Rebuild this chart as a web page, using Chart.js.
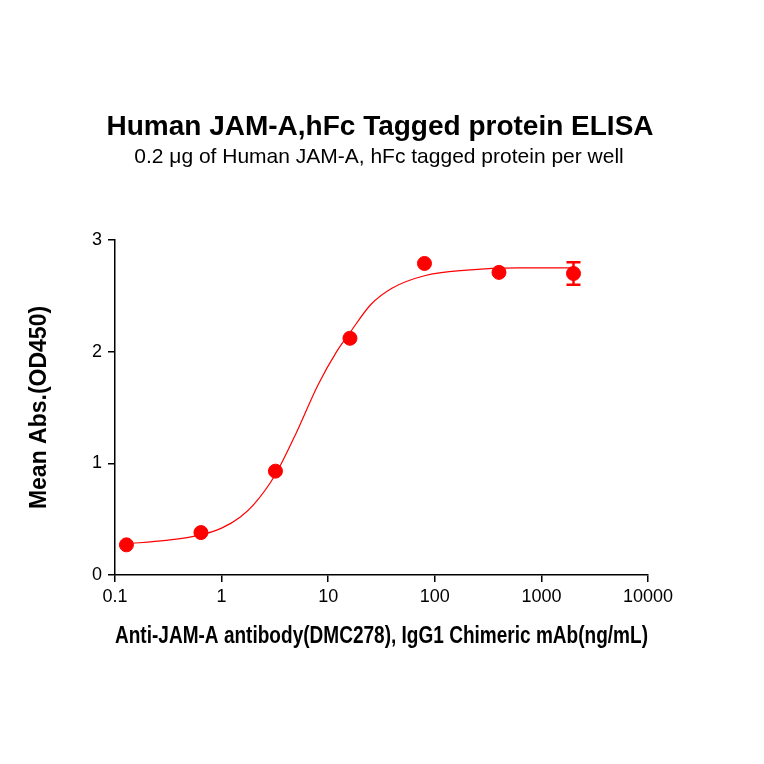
<!DOCTYPE html>
<html><head><meta charset="utf-8">
<script src="https://cdn.jsdelivr.net/npm/chart.js@4"></script>
<style>body{margin:0;background:#fff}</style>
</head><body>
<canvas id="c" width="764" height="764"></canvas>
<script>
// Measured points (ng/mL vs OD450)
const concentrations = [0.128, 0.64, 3.2, 16, 80, 400, 2000];
const meanAbs = [0.27, 0.38, 0.93, 2.12, 2.79, 2.71, 2.70];
const errAbs = [0, 0, 0, 0, 0, 0, 0.1];
// Fitted curve
const curveX = [0.128, 0.3, 0.64, 1, 1.5, 2, 3.2, 5, 8, 12, 16, 25, 40, 80, 200, 600, 2000];
const curveY = [0.28, 0.31, 0.36, 0.42, 0.52, 0.63, 0.90, 1.27, 1.70, 2.00, 2.17, 2.42, 2.57, 2.68, 2.73, 2.75, 2.75];
const xTicks = [0.1, 1, 10, 100, 1000, 10000];
const yTicks = [0, 1, 2, 3];

const RED = 'rgb(255,0,0)';
const FONT = 'Arial, "Liberation Sans", sans-serif';

const titles = {
  id: 'titles',
  afterDraw(chart) {
    const ctx = chart.ctx;
    ctx.save();
    ctx.fillStyle = '#000';
    ctx.textAlign = 'center';
    ctx.textBaseline = 'middle';
    ctx.font = 'bold 28px ' + FONT;
    ctx.fillText('Human JAM-A,hFc Tagged protein ELISA', 380, 127);
    ctx.font = '21px ' + FONT;
    ctx.fillText('0.2 \u03BCg of Human JAM-A, hFc tagged protein per well', 379, 157);
    ctx.restore();
  }
};

const errorBars = {
  id: 'errorBars',
  afterDatasetsDraw(chart) {
    const ctx = chart.ctx, xs = chart.scales.x, ys = chart.scales.y;
    ctx.save();
    ctx.strokeStyle = RED;
    ctx.lineWidth = 2.5;
    concentrations.forEach((c, i) => {
      if (!errAbs[i]) return;
      const px = xs.getPixelForValue(c);
      const top = ys.getPixelForValue(meanAbs[i] + errAbs[i]);
      const bot = ys.getPixelForValue(meanAbs[i] - errAbs[i]);
      ctx.beginPath();
      ctx.moveTo(px, top); ctx.lineTo(px, bot);
      ctx.moveTo(px - 7, top); ctx.lineTo(px + 7, top);
      ctx.moveTo(px - 7, bot); ctx.lineTo(px + 7, bot);
      ctx.stroke();
    });
    ctx.restore();
  }
};

new Chart(document.getElementById('c'), {
  type: 'scatter',
  data: {
    datasets: [
      {
        data: concentrations.map((x, i) => ({x, y: meanAbs[i]})),
        backgroundColor: RED, borderColor: RED,
        pointRadius: 7, showLine: false
      },
      {
        data: curveX.map((x, i) => ({x, y: curveY[i]})),
        borderColor: RED, borderWidth: 1.2, pointRadius: 0,
        showLine: true, tension: 0.4, cubicInterpolationMode: 'monotone'
      }
    ]
  },
  plugins: [titles, errorBars],
  options: {
    responsive: false,
    animation: false,
    layout: {padding: {top: 240, right: 116, left: 26, bottom: 114}},
    plugins: {legend: {display: false}, tooltip: {enabled: false}},
    scales: {
      x: {
        type: 'logarithmic', min: 0.1, max: 10000,
        afterBuildTicks: s => { s.ticks = xTicks.map(v => ({value: v})); },
        afterFit: s => { s.height = 75; },
        ticks: {color: '#000', font: {family: FONT, size: 18}, padding: 4, maxRotation: 0,
          callback: v => String(v)},
        grid: {drawOnChartArea: false, color: '#000', tickLength: 7, lineWidth: 1.5},
        border: {color: '#000', width: 1.5},
        title: {display: true, text: 'Anti-JAM-A antibody(DMC278), IgG1 Chimeric mAb(ng/mL)',
          color: '#000', font: {family: FONT, size: 23, weight: 'bold'}, padding: 0}
      },
      y: {
        min: 0, max: 3,
        afterBuildTicks: s => { s.ticks = yTicks.map(v => ({value: v})); },
        afterFit: s => { s.width = 89; },
        ticks: {color: '#000', font: {family: FONT, size: 18}, padding: 6},
        grid: {drawOnChartArea: false, color: '#000', tickLength: 7, lineWidth: 1.5},
        border: {color: '#000', width: 1.5},
        title: {display: true, text: 'Mean Abs.(OD450)', color: '#000',
          font: {family: FONT, size: 23, weight: 'bold'}, padding: 0}
      }
    }
  }
});
</script>
</body></html>
